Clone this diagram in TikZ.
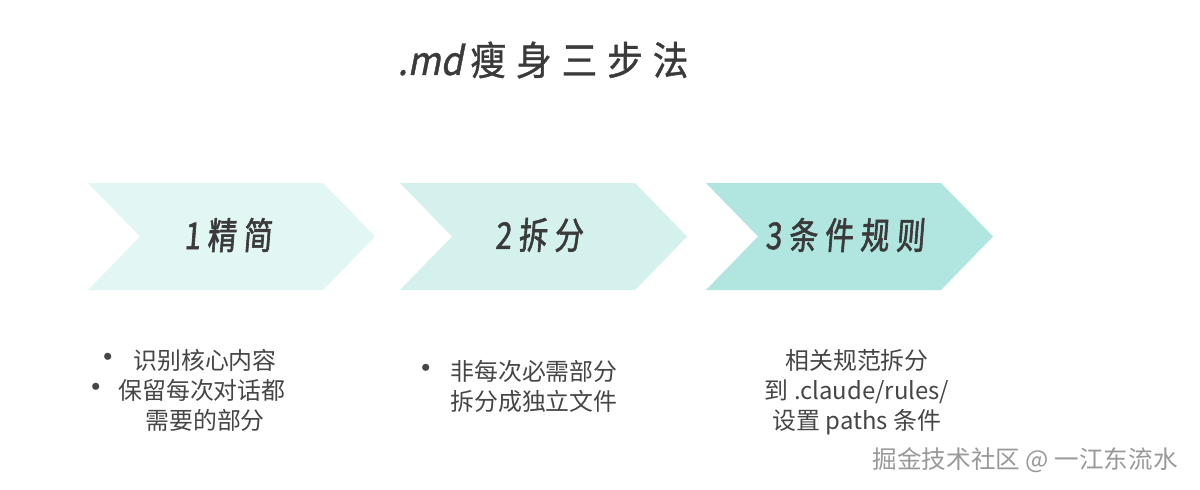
\documentclass[tikz,border=0pt]{standalone}
\usepackage{fontspec}
\setmainfont{Noto Sans CJK SC}
\newfontfamily\labelfont[FakeStretch=0.78,FakeBold=1.6,FakeSlant=0.08]{Noto Sans CJK SC}
\newfontfamily\titlefont[FakeStretch=0.9,FakeBold=1]{Noto Sans CJK SC}
\newfontfamily\slantfont[FakeSlant=0.2,FakeStretch=0.9,FakeBold=1]{Noto Sans CJK SC}
\newdimen\pxu \pxu=0.02cm
\newcommand{\gap}{\hspace{10\pxu}}
\newcommand{\lgap}{\hspace{7\pxu}}
\newcommand{\bul}[1]{\makebox[#1\pxu][l]{\fontsize{19pt}{17pt}\selectfont•}}
\definecolor{ink}{HTML}{3A3A3A}
\definecolor{notegray}{HTML}{464646}
\definecolor{chevA}{HTML}{E2F6F3}
\definecolor{chevB}{HTML}{D4F1ED}
\definecolor{chevC}{HTML}{B1E5DF}

\begin{document}
\begin{tikzpicture}[x=0.02cm, y=-0.02cm,
      steplabel/.style={font=\labelfont\fontsize{21pt}{24pt}\selectfont, text=ink}, % texto de las flechas
      note/.style={font=\fontsize{13.6pt}{17pt}\selectfont, text=notegray, align=left, anchor=west, inner sep=0pt},
      wmark/.style={font=\fontsize{14pt}{17pt}\selectfont, text=gray!80, inner sep=0pt}
    ]
    \useasboundingbox (0,0) rectangle (1200,490);
    \fill[white] (0,0) rectangle (1200,490);
    % Title
    \node[font=\titlefont\fontsize{22.5pt}{26pt}\selectfont, text=ink] (title) at (543,60)
      {{\slantfont .md}\hspace{8\pxu}瘦\gap 身\gap 三\gap 步\gap 法};
    % Chevrons
    \foreach \x/\c in {88/chevA, 400/chevB, 706/chevC}
      \fill[\c] (\x,183) -- ++(235,0) -- ++(52,53.5) -- ++(-52,53.5) -- ++(-235,0) -- ++(52,-53.5) -- cycle;
    \node[steplabel] (step1) at (228,235) {1\lgap 精\lgap 简};
    \node[steplabel] (step2) at (539,235) {2\lgap 拆\lgap 分};
    \node[steplabel] (step3) at (845,235) {3\lgap 条\lgap 件\lgap 规\lgap 则};
    % Notes under each step
    \node[note] (note1) at (81,390)
      {\hspace*{10\pxu}\bul{42}识别核心内容\\ \hspace*{-2\pxu}\bul{39}保留每次对话都\\ \hspace*{64\pxu}需要的部分};
    \node[note] (note2) at (409,386.5)
      {\bul{41}非每次必需部分\\ \hspace*{41\pxu}拆分成独立文件};
    \node[note, align=center, anchor=center] (note3) at (857,392.5)
      {相关规范拆分\\ 到 .claude/rules/\\ 设置 paths 条件};
    % Watermark
    \node[wmark, anchor=east] (wm) at (1178,460) {掘金技术社区 @ 一江东流水};
\end{tikzpicture}
\end{document}
